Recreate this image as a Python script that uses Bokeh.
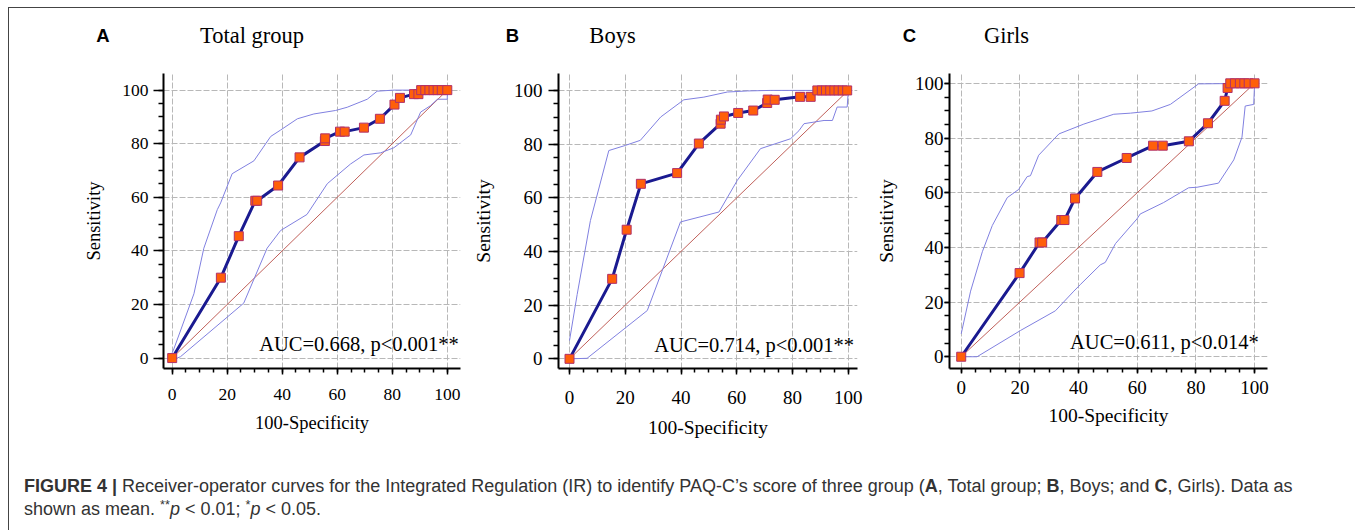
from bokeh.plotting import figure
from bokeh.models import Range1d, Label, FixedTicker, Div, Spacer
from bokeh.layouts import row, column
from bokeh.core.properties import value
from bokeh.embed import file_html
from bokeh.resources import INLINE

SERIF = "Liberation Serif"
SANS = "Liberation Sans"

# ---------------- data ----------------
ticks_major = [0, 20, 40, 60, 80, 100]
ticks_minor = [0, 5, 10, 15, 20, 25, 30, 35, 40, 45, 50, 55, 60, 65, 70, 75, 80, 85, 90, 95, 100]
diag_x = [0, 100]
diag_y = [0, 100]

# Panel A: Total group
a_x = [0, 17.7, 24.2, 30.2, 30.9, 38.5, 46.3, 55.5, 55.6, 61.0, 62.7, 69.7, 75.5, 80.8, 82.8,
       87.9, 89.5, 90.5, 92.0, 93.5, 95.0, 96.5, 98.0, 100]
a_y = [0, 30.0, 45.5, 58.7, 58.7, 64.4, 74.9, 81.0, 82.0, 84.5, 84.5, 86.0, 89.3, 94.6, 97.1,
       98.5, 98.5, 100, 100, 100, 100, 100, 100, 100]
a_up_x = [0, 0.6, 7.9, 11.5, 16.4, 17.6, 21.8, 29.7, 35.8, 39.4, 45.5, 51.5, 59.4, 63.6, 70.9,
          74.5, 80.6, 100]
a_up_y = [2.0, 3.4, 24, 41, 55.4, 57.9, 68.8, 73.6, 82.7, 85.1, 89.3, 91.1, 92.4, 93.6, 96.6,
          99.6, 100, 100]
a_lo_x = [0, 1.8, 3.0, 26.0, 34.5, 39.4, 49.0, 56.4, 64.8, 69.7, 75.8, 80.6, 86.7, 90.3, 93.9,
          96.4, 100, 100]
a_lo_y = [0, 0, 0.5, 20.5, 41, 47.6, 53.6, 65.1, 72.4, 75.8, 76.6, 78.5, 83.3, 91.8, 94.2,
          96.6, 96.6, 100]

# Panel B: Boys
b_x = [0, 15.3, 20.5, 25.6, 38.6, 46.4, 54.2, 54.3, 55.4, 60.5, 65.9, 70.9, 71.1, 73.6, 82.7,
       86.5, 88.9, 90.5, 92.0, 93.5, 95.0, 96.5, 98.0, 99.6]
b_y = [0, 29.8, 48.1, 65.2, 69.2, 80.2, 87.6, 89.1, 90.3, 91.6, 92.5, 95.3, 96.6, 96.5, 97.6,
       97.6, 100, 100, 100, 100, 100, 100, 100, 100]
b_up_x = [0, 2.75, 7.5, 14.1, 20, 25.4, 32.7, 41, 48.2, 56.6, 63.8, 72, 100]
b_up_y = [6.8, 24, 51.5, 77.6, 79.5, 81.4, 90.1, 96.5, 97.5, 99.4, 99.8, 100, 100]
b_lo_x = [0, 6.3, 27.9, 39.8, 53.6, 60.2, 68.5, 79.3, 82.3, 84.1, 91.3, 94.3, 96.0, 99.6, 100]
b_lo_y = [0, 0.2, 18, 51, 54.7, 66.5, 78.3, 82, 85, 87.6, 88.8, 88.8, 93.8, 93.8, 100]

# Panel C: Girls
c_x = [0, 19.9, 26.7, 27.6, 34.1, 35.2, 38.8, 46.4, 56.4, 65.4, 68.7, 77.6, 84.1, 89.8, 90.8,
       91.7, 93.3, 95.0, 96.5, 98.0, 100]
c_y = [0, 30.6, 41.8, 41.8, 50, 50, 57.9, 67.6, 72.7, 77.2, 77.2, 78.8, 85.4, 93.6, 98.3,
       100, 100, 100, 100, 100, 100]
c_up_x = [0, 3.2, 7.2, 10.6, 15.7, 19.6, 22.5, 23.6, 26.4, 33.3, 41.8, 52.0, 57.7, 65.0, 71.3,
          80.9, 100]
c_up_y = [8.4, 24, 38.4, 48, 58.2, 61.2, 65.9, 66.2, 73.7, 81.5, 85.1, 88.7, 89.1, 89.9, 92.3,
          99.8, 100]
c_lo_x = [0, 5.4, 20.2, 32.1, 38.4, 40.6, 47.4, 49.1, 52.6, 59.9, 61.0, 69.0, 77.5, 80.4, 87.7,
          92.9, 95.7, 96.8, 99.7, 100]
c_lo_y = [0, 0, 9.6, 16.8, 24, 26.4, 33.6, 34.5, 41.4, 50.4, 52.2, 56.4, 61.8, 62, 63.5,
          72, 80.3, 91.7, 92.3, 100]

panel_letters = ["A", "B", "C"]
panel_titles = ["Total group", "Boys", "Girls"]
auc_texts = ["AUC=0.668, p<0.001**", "AUC=0.714, p<0.001**", "AUC=0.611, p<0.014*"]
x_label = "100-Specificity"
y_label = "Sensitivity"

SUP = "<span style=\"position:relative; top:-0.45em; font-size:0.7em; line-height:0;\">{}</span>"
caption_html = (
    "<b>FIGURE 4 |</b> Receiver-operator curves for the Integrated Regulation (IR) to identify "
    "PAQ-C\u2019s score of three group (<b>A</b>, Total group; <b>B</b>, Boys; and <b>C</b>, Girls). "
    "Data as<br>shown as mean. " + SUP.format("**") + "<i>p</i> &lt; 0.01; "
    + SUP.format("*") + "<i>p</i> &lt; 0.05."
)

# ---------------- title strip (page pixel coordinates) ----------------
letter_pos_x = [102.5, 512, 909]
title_pos_x = [251.5, 612, 1006]
title_pos_y = [35, 35, 35]

strip = figure(width=1338, height=47, output_backend="svg", toolbar_location=None,
               x_range=Range1d(9, 1347), y_range=Range1d(55, 8),
               x_axis_type=None, y_axis_type=None,
               min_border_left=0, min_border_right=0, min_border_top=0, min_border_bottom=0)
strip.outline_line_color = None
strip.xgrid.visible = False
strip.ygrid.visible = False
strip.text(x=letter_pos_x, y=title_pos_y, text=panel_letters, text_font=value(SANS),
           text_font_style="bold", text_font_size="18.5px", text_color="black",
           text_align="center", text_baseline="middle")
strip.text(x=title_pos_x, y=title_pos_y, text=panel_titles, text_font=value(SERIF),
           text_font_size="22.5px", text_color="black",
           text_align="center", text_baseline="middle")

# ---------------- panels ----------------
panels = [
    dict(data=(a_x, a_y, a_up_x, a_up_y, a_lo_x, a_lo_y), width=459, mbl=154, mbr=8, mbt=12, mbb=75,
         xr=(-3.16, 104.8), yr=(-3.89, 106.2), tfs=17.5, lfs=18.5,
         xstand=14, xlab_stand=10, ystand=5, ylab_stand=15, xtick=6, ytick=10,
         auc=(104.2, 5.2)),
    dict(data=(b_x, b_y, b_up_x, b_up_y, b_lo_x, b_lo_y), width=398, mbl=90, mbr=9, mbt=18, mbb=77,
         xr=(-3.95, 103.3), yr=(-3.6, 106.3), tfs=19, lfs=19.5,
         xstand=16, xlab_stand=10, ystand=6, ylab_stand=17, xtick=6, ytick=10,
         auc=(102.0, 5.0)),
    dict(data=(c_x, c_y, c_up_x, c_up_y, c_lo_x, c_lo_y), width=481, mbl=83, mbr=80, mbt=17, mbb=73,
         xr=(-3.99, 104.4), yr=(-4.3, 103.6), tfs=19, lfs=19.5,
         xstand=7, xlab_stand=8, ystand=1, ylab_stand=15, xtick=5, ytick=5,
         auc=(101.4, 5.4)),
]

figs = []
for i, cfg in enumerate(panels):
    mx, my, ux, uy, lx, ly = cfg["data"]
    p = figure(width=cfg["width"], height=390, output_backend="svg", toolbar_location=None,
               x_range=Range1d(*cfg["xr"]), y_range=Range1d(*cfg["yr"]),
               min_border_left=cfg["mbl"], min_border_right=cfg["mbr"],
               min_border_top=cfg["mbt"], min_border_bottom=cfg["mbb"])
    p.outline_line_color = None
    p.background_fill_color = "white"
    p.border_fill_color = "white"

    for ax in (p.xaxis[0], p.yaxis[0]):
        ax.ticker = FixedTicker(ticks=ticks_major, minor_ticks=ticks_minor)
        ax.axis_line_color = "black"
        ax.axis_line_width = 2
        ax.major_tick_line_color = "black"
        ax.major_tick_line_width = 1.5
        ax.minor_tick_line_color = "black"
        ax.minor_tick_line_width = 1.5
        ax.major_tick_in = 0
        ax.minor_tick_in = 0
        ax.major_label_text_font = SERIF
        ax.major_label_text_font_size = f"{cfg['tfs']}px"
        ax.major_label_text_color = "black"
        ax.axis_label_text_font = SERIF
        ax.axis_label_text_font_style = "normal"
        ax.axis_label_text_font_size = f"{cfg['lfs']}px"
        ax.axis_label_text_color = "black"

    p.xaxis.axis_label = x_label
    p.yaxis.axis_label = y_label
    p.xaxis.major_tick_out = cfg["xtick"]
    p.xaxis.minor_tick_out = 4
    p.yaxis.major_tick_out = cfg["ytick"]
    p.yaxis.minor_tick_out = 5
    p.xaxis.major_label_standoff = cfg["xstand"]
    p.xaxis.axis_label_standoff = cfg["xlab_stand"]
    p.yaxis.major_label_standoff = cfg["ystand"]
    p.yaxis.axis_label_standoff = cfg["ylab_stand"]

    for g in (p.xgrid[0], p.ygrid[0]):
        g.ticker = FixedTicker(ticks=ticks_major)
        g.grid_line_color = "#b8b8b8"
        g.grid_line_width = 1
        g.grid_line_dash = "6 2"

    p.line(diag_x, diag_y, line_color="#c0605a", line_width=1)
    p.line(ux, uy, line_color="#8080e0", line_width=1)
    p.line(lx, ly, line_color="#8080e0", line_width=1)
    p.line(mx, my, line_color="#1a1a90", line_width=3)
    p.scatter(mx, my, marker="square", size=9, fill_color="#ff5f0a",
              line_color="#b0306a", line_width=1)

    ax0, ay0 = cfg["auc"]
    p.add_layout(Label(x=ax0, y=ay0, text=auc_texts[i], text_font=SERIF,
                       text_font_size="20.5px", text_color="black",
                       text_align="right", text_baseline="middle"))
    figs.append(p)

caption = Div(
    text=("<div style=\"padding-left:10px; padding-top:25px; font-family:'Liberation Sans', Arial, sans-serif; "
          "font-size:18px; line-height:23px; color:#333333; white-space:nowrap;\">"
          + caption_html + "</div>"),
    width=1338, height=77)

main = column(strip, row(*figs), caption,
              styles={"border-left": "1px solid #444444", "border-top": "1px solid #444444"})
layout = column(Spacer(height=7), row(Spacer(width=8), main))

open("out.html", "w").write(file_html(layout, INLINE))
